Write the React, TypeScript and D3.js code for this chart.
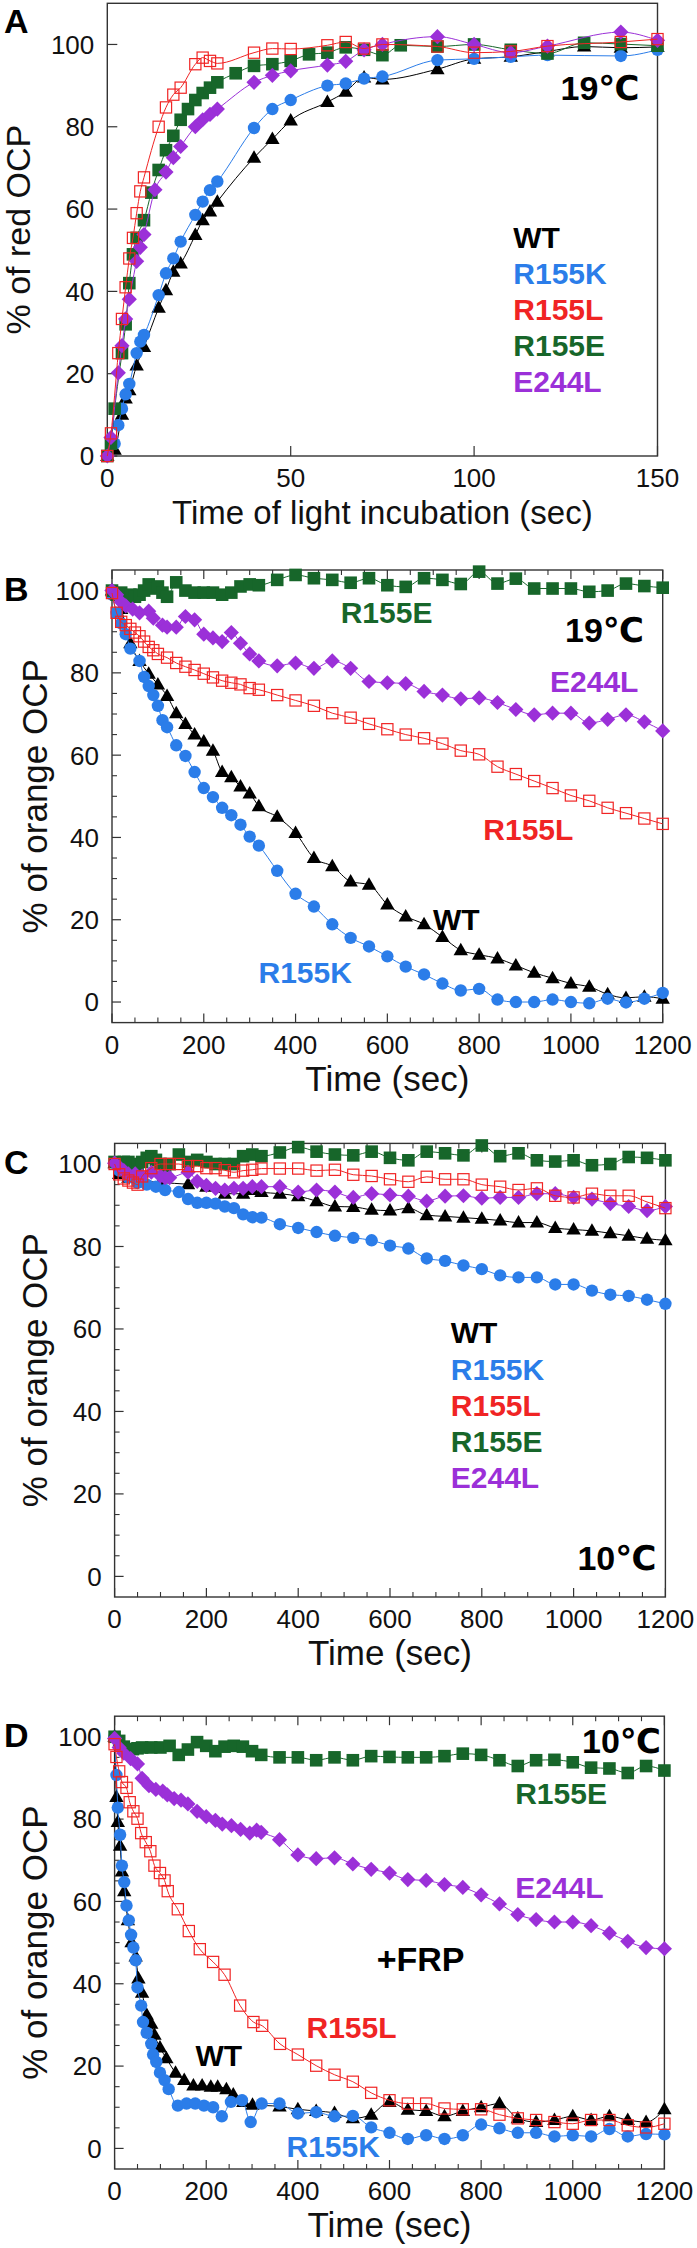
import React from "react";
import * as d3 from "d3";

// ---------- DATA ----------
type Pt = [number, number];

// Panel A: % of red OCP vs time of light incubation (sec), 19°C
const A_WT: Pt[] = [[0,0],[2,1.5],[4,10],[5,14],[6,16],[8,22],[10,26.5],[14,36],[16,40.3],[18,44.8],[20,46.8],[24,53.7],[26,57.3],[28,59.4],[30,61.8],[40,72.5],[45,77],[50,81.5],[60,86],[65,88.5],[70,92],[75,91.5],[90,94],[100,96.5],[110,97],[120,98.3],[130,99.5],[140,99.2],[150,99.4]];
const A_R155K: Pt[] = [[0,0],[2,3],[3,7.5],[4,11.5],[5,15],[6,17.5],[8,25],[9,27.8],[10,29.4],[14,39.1],[16,44.4],[18,48],[20,52.1],[24,58.6],[26,61.8],[28,64.6],[30,66.7],[40,79.7],[45,84.3],[50,86.5],[60,90],[65,90.5],[70,91.7],[75,92.2],[90,96.2],[100,96.5],[110,97],[120,97.4],[140,97.2],[150,98.7]];
const A_R155L: Pt[] = [[0,0],[1,5.5],[3,25],[4,33.3],[5,41],[6,48],[7,53],[8,59],[9,64.3],[10,67.7],[14,80],[16,84.7],[18,87.8],[20,89.5],[24,95.2],[26,96.8],[28,96],[30,95.4],[40,98],[45,99],[50,98.9],[60,99.8],[65,100.6],[70,99],[75,100],[90,99.5],[100,98],[110,98.3],[120,99.6],[140,100.6],[150,101.3]];
const A_R155E: Pt[] = [[0,0],[1,3],[2,11.5],[4,25],[5,32],[6,42],[7,49],[8,53],[10,57.3],[12,64],[14,69.5],[16,74.3],[18,77.8],[20,81.7],[22,84.3],[24,86.5],[26,88.2],[28,89.5],[30,90.8],[35,93],[40,94.8],[45,95.2],[50,96],[55,97.6],[60,98],[65,99.3],[70,98.7],[75,97.4],[80,99.8],[90,99.5],[100,100],[110,98.7],[120,97.8],[130,100.4],[140,100.1],[150,99.7]];
const A_E244L: Pt[] = [[0,0],[1,4.5],[3,20.2],[4,26.8],[5,33.3],[6,38.1],[8,47.3],[9,50.7],[10,53.8],[13,64.7],[16,69],[18,72.5],[20,75.2],[24,80],[26,81.7],[28,83],[30,84.3],[40,90.8],[45,92.5],[50,93.6],[60,95],[65,95.9],[70,98.7],[75,100],[90,101.9],[100,100],[110,98],[120,99.6],[140,103],[150,101]];

// Panel B: % of orange OCP vs time (sec), 19°C
const B_WT: Pt[] = [[0,100],[20,95.5],[40,87.2],[60,82.9],[80,79.8],[100,77.2],[120,74.4],[140,70.2],[160,67.6],[180,65],[200,63.3],[220,61.1],[240,55.9],[260,54.6],[280,52.4],[300,50.7],[320,47.6],[360,45],[400,41.1],[440,35],[480,33],[520,29.3],[560,28.5],[600,23.7],[640,20.8],[680,18.9],[720,15.8],[760,12.6],[800,11.5],[840,10.6],[880,8.9],[920,7.1],[960,5.8],[1000,4.5],[1040,3.7],[1080,1.9],[1120,1],[1160,1.3],[1200,0.8]];
const B_R155K: Pt[] = [[0,99],[10,94.6],[20,92],[30,89.4],[40,85.9],[60,82.9],[70,79],[80,76.8],[90,74.6],[100,72],[110,68.5],[120,66.8],[140,62.4],[160,59.8],[180,55.9],[200,52],[220,49.8],[240,47.2],[260,45.4],[280,43.1],[300,40.2],[320,38],[360,31.9],[400,26.3],[440,23.2],[480,18.9],[520,15.6],[560,13.5],[600,11.1],[640,8.6],[680,6.7],[720,4.5],[760,2.8],[800,3.2],[840,0.6],[880,0],[920,0],[960,0.6],[1000,0],[1040,-0.3],[1080,0.8],[1120,-0.1],[1160,0.8],[1200,2.2]];
const B_R155L: Pt[] = [[0,99.4],[10,94.6],[20,92.4],[30,91.6],[40,90.7],[50,89.8],[60,88.9],[70,87.6],[80,86.3],[90,85.5],[100,84.6],[120,83.7],[140,82.4],[160,81.5],[180,80.7],[200,79.8],[220,78.9],[240,78.1],[260,77.6],[280,77.2],[300,76.3],[320,75.9],[360,74.6],[400,73.3],[440,72],[480,70.2],[520,69.1],[560,67.6],[600,66.3],[640,65],[680,64.1],[720,62.8],[760,61.1],[800,60.2],[840,57.2],[880,55.4],[920,53.7],[960,52],[1000,50.2],[1040,48.9],[1080,47.2],[1120,45.9],[1160,44.6],[1200,43.3]];
const B_R155E: Pt[] = [[0,100],[10,99],[20,99.5],[30,98.5],[40,99],[50,98.5],[60,99],[70,100],[80,101.5],[90,100.5],[100,101],[110,99.5],[120,98.5],[140,102],[160,100],[180,99.5],[200,99.5],[220,99.5],[240,99],[260,99.5],[280,101],[300,101.5],[320,101.3],[360,102.6],[400,103.8],[440,103],[480,102.6],[520,101.9],[560,103],[600,101.3],[640,100.9],[680,103],[720,102.6],[760,101.6],[800,104.6],[840,101.7],[880,102.9],[920,100.5],[960,100.5],[1000,100.5],[1040,99.7],[1080,100],[1120,101.7],[1160,101.1],[1200,100.7]];
const B_E244L: Pt[] = [[0,100],[10,99],[20,97.2],[30,96.3],[45,95.5],[60,94.6],[80,95],[90,93.3],[110,91.6],[120,91.1],[140,91.1],[160,93.7],[180,92.9],[200,89.4],[220,88.5],[240,87.6],[260,89.8],[280,87.2],[300,84.6],[320,82.9],[360,81.7],[400,82.4],[440,81.1],[480,82.9],[520,81.1],[560,77.9],[600,77.6],[640,77.4],[680,75.5],[720,74.6],[760,73.7],[800,73.9],[840,72.8],[880,71.1],[920,69.8],[960,70.2],[1000,70.2],[1040,67.8],[1080,68.7],[1120,69.8],[1160,68.1],[1200,65.9]];

// Panel C: % of orange OCP vs time (sec), 10°C
const C_WT: Pt[] = [[0,100.2],[10,97.6],[30,96.7],[60,96],[100,95.5],[160,95.1],[200,94.5],[240,92.8],[280,92.8],[300,93.7],[320,93.2],[360,92.8],[400,92.2],[440,91],[480,89.7],[520,89.6],[560,88.9],[600,88.7],[640,89.3],[680,87.6],[720,87.3],[760,87],[800,86.7],[840,86.3],[880,85.8],[920,85.8],[960,84.5],[1000,84.1],[1040,83.8],[1080,83.2],[1120,82.6],[1160,81.9],[1200,81.5]];
const C_R155K: Pt[] = [[0,100.2],[10,98.4],[30,96.7],[50,95.4],[70,95],[90,94.5],[110,93.7],[140,93.2],[160,91.5],[180,90.6],[200,90.6],[220,90.4],[240,89.7],[260,89.3],[280,87.8],[300,87.1],[320,87],[360,85.4],[400,84.5],[440,83.5],[480,82.6],[520,82.1],[560,81.5],[600,80.2],[640,79.5],[680,77.1],[720,76.5],[760,75.4],[800,74.5],[840,73],[880,72.5],[920,72.5],[960,70.8],[1000,70.8],[1040,69.3],[1080,68.3],[1120,68],[1160,67.1],[1200,66.1]];
const C_R155L: Pt[] = [[0,100],[10,97.5],[20,96.5],[30,96],[40,95.5],[50,95],[60,97],[80,99],[100,100],[120,100],[140,100],[160,99.5],[180,99.5],[200,99],[220,99],[240,98.5],[260,98],[280,98.4],[300,98.6],[320,98.9],[360,98.9],[400,98.9],[440,98.4],[480,98.6],[520,97.4],[560,97.1],[600,96.3],[640,95.7],[680,96.9],[720,96.3],[760,96.3],[800,95],[840,94.5],[880,93.7],[920,94.1],[960,92.3],[1000,91.9],[1040,92.8],[1080,92.3],[1120,92.3],[1160,90.8],[1200,89.3]];
const C_R155E: Pt[] = [[0,100.5],[10,100],[20,100.5],[30,100.5],[40,100],[50,99.8],[60,100.5],[70,101.5],[80,101.9],[90,101],[100,100],[110,99.5],[120,100],[140,102.3],[160,100.5],[180,101],[200,100.5],[220,100],[240,100],[260,100],[280,101.9],[300,102.3],[320,101.9],[360,102.8],[400,104.1],[440,103],[480,102.3],[520,102.1],[560,103],[600,101.5],[640,100.9],[680,103],[720,102.6],[760,102.1],[800,104.5],[840,101.9],[880,102.6],[920,100.9],[960,100.6],[1000,100.9],[1040,99.7],[1080,100],[1120,101.7],[1160,101.5],[1200,100.9]];
const C_E244L: Pt[] = [[0,100.2],[10,99.3],[20,98.4],[30,97.6],[45,97.6],[60,97.1],[80,98],[100,97.1],[110,96.7],[120,96.7],[160,98],[180,95.8],[200,94.8],[220,94.1],[240,93.7],[260,94.1],[280,94.1],[300,94.5],[320,94.5],[360,94.5],[400,93.2],[440,93.7],[480,93.2],[520,91.9],[560,92.8],[600,92.5],[640,92.2],[680,91],[720,92.2],[760,92.3],[800,91.7],[840,91.9],[880,91.9],[920,92.8],[960,92.8],[1000,91.9],[1040,91.5],[1080,90.4],[1120,89.7],[1160,88.7],[1200,89.7]];

// Panel D: % of orange OCP vs time (sec), 10°C, +FRP
const D_WT: Pt[] = [[0,100],[4,85.4],[7,79.3],[12,73.5],[16,67.3],[21,62.5],[29,55.4],[37,50.1],[46,46.6],[52,41.3],[60,37.8],[70,32.5],[80,30.3],[87,27.6],[99,24.5],[113,21.9],[133,18.4],[152,16.6],[172,15.3],[191,15.3],[210,15],[225,15],[244,14.4],[259,13.1],[281,11.3],[301,10.6],[360,10.2],[400,9.5],[440,9.1],[480,8.6],[520,7.3],[560,8.2],[600,11.3],[640,9.4],[680,9.1],[720,7.8],[760,9.1],[800,10],[840,10.9],[880,7.3],[920,6.4],[960,6.9],[1000,7.8],[1040,6.9],[1080,7.8],[1120,6.9],[1160,6.4],[1200,9.5]];
const D_R155K: Pt[] = [[0,100],[4,90.7],[7,82.8],[12,76.2],[16,68.7],[21,64.7],[26,59],[31,55.4],[36,51.9],[41,48.8],[46,45.7],[50,39.1],[58,34.7],[62,30.7],[70,28.1],[80,25.4],[84,22.8],[91,21],[99,18.4],[109,16.6],[118,14.4],[138,10.4],[157,10.9],[176,10.9],[195,10.4],[215,10],[234,7.8],[254,11.3],[278,11.7],[297,6.4],[321,10.9],[360,10.9],[400,8.5],[440,8.8],[480,7.8],[520,7.9],[560,5.1],[600,3.8],[640,2.3],[680,3.2],[720,2.3],[760,3.2],[800,5.8],[840,4.9],[880,3.8],[920,3.8],[960,2.9],[1000,3.2],[1040,2.9],[1080,4.7],[1120,2.9],[1160,3.5],[1200,3.4]];
const D_R155L: Pt[] = [[0,98.2],[4,95.1],[10,91.6],[16,89],[26,87.6],[33,84.1],[41,81.9],[50,80.1],[58,76.6],[68,74.4],[78,72.2],[87,68.7],[99,66.9],[109,65.1],[116,62.5],[138,58.1],[162,52.8],[186,48.4],[215,45.3],[240,42.2],[274,34.7],[303,30.7],[322,29.8],[361,25.4],[400,22.8],[440,20.1],[480,17.9],[520,16.2],[560,13.5],[600,11.7],[640,10.9],[680,10.9],[720,9.7],[760,9.5],[800,9.5],[840,8.2],[880,7.3],[920,6.9],[960,6.4],[1000,6],[1040,6.9],[1080,6.9],[1120,5.6],[1160,5.1],[1200,6]];
const D_R155E: Pt[] = [[0,100],[10,99],[20,97.6],[30,97],[40,97],[50,97.2],[60,97.4],[80,97.4],[100,97.4],[120,97.8],[140,95.6],[160,96.9],[180,98.7],[200,97.8],[220,96.5],[240,97.6],[260,97.8],[280,97.6],[300,96.5],[320,95.6],[360,95],[400,95],[440,94.3],[480,95],[520,94.3],[560,95.3],[600,95.1],[640,95],[680,95],[720,95.3],[760,95.9],[800,95.6],[840,94.3],[880,92.9],[920,94.3],[960,94.4],[1000,93.8],[1040,92.5],[1080,92.3],[1120,91.2],[1160,92.9],[1200,91.8]];
const D_E244L: Pt[] = [[0,99.6],[10,97.4],[20,96],[35,94.7],[50,93.4],[60,89.9],[75,88.1],[90,87.2],[105,86.8],[115,85.9],[130,85],[145,84.6],[160,83.7],[180,81.9],[200,80.6],[220,79.7],[235,78.8],[255,78.4],[275,77.5],[295,76.6],[310,77.3],[320,76.8],[360,75],[400,71.3],[440,70.4],[480,70.6],[520,69.1],[560,67.8],[600,66.9],[640,65.3],[680,65.1],[720,64.1],[760,63.4],[800,61.6],[840,59.4],[880,56.8],[920,55.6],[960,55],[1000,55],[1040,54.1],[1080,52.3],[1120,50.3],[1160,48.8],[1200,48.5]];

const STRAINS = ["WT", "R155K", "R155L", "R155E", "E244L"];
const COLORS: Record<string, string> = {
  WT: "#000000",
  R155K: "#2b7de9",
  R155L: "#f02424",
  R155E: "#17662a",
  E244L: "#9b30d8",
};
const DRAW_ORDER = ["WT", "R155K", "R155E", "E244L", "R155L"];

const A_X_TICKS = [0, 50, 100, 150];
const A_Y_TICKS = [0, 20, 40, 60, 80, 100];
const T_X_TICKS = [0, 200, 400, 600, 800, 1000, 1200];
const T_Y_TICKS = [0, 20, 40, 60, 80, 100];

const FONT = '"Liberation Sans", Arial, Helvetica, "DejaVu Sans", sans-serif';

type Label = { text: string; color: string; x: number; y: number; size: number };

type Panel = {
  letter: string;
  letterY: number;
  x0: number; x1: number; y0: number; y1: number;
  xDomain: [number, number]; yDomain: [number, number];
  xTicks: number[]; yTicks: number[];
  minor: boolean;
  xTitle: string; yTitle: string; yTitleX: number; xTitleSize: number; yTitleSize: number;
  data: Record<string, Pt[]>;
  labels: Label[];
};

const legend = (x: number, ys: number[]): Label[] =>
  STRAINS.map((s, i) => ({ text: s, color: COLORS[s], x, y: ys[i], size: 30 }));

const PANELS: Panel[] = [
  {
    letter: "A", letterY: 33,
    x0: 107.3, x1: 657.5, y0: 3.3, y1: 456,
    xDomain: [0, 150], yDomain: [0, 110],
    xTicks: A_X_TICKS, yTicks: A_Y_TICKS, minor: false,
    xTitle: "Time of light incubation (sec)", yTitle: "% of red OCP", yTitleX: 30,
    xTitleSize: 33, yTitleSize: 34,
    data: { WT: A_WT, R155K: A_R155K, R155L: A_R155L, R155E: A_R155E, E244L: A_E244L },
    labels: [
      { text: "19℃", color: "#000", x: 560.5, y: 100, size: 34 },
      ...legend(513.3, [248.3, 284, 320, 355.5, 391.7]),
    ],
  },
  {
    letter: "B", letterY: 601,
    x0: 112, x1: 662.7, y0: 570, y1: 1022.6,
    xDomain: [0, 1200], yDomain: [-5, 105],
    xTicks: T_X_TICKS, yTicks: T_Y_TICKS, minor: true,
    xTitle: "Time (sec)", yTitle: "% of orange OCP", yTitleX: 47,
    xTitleSize: 35, yTitleSize: 35,
    data: { WT: B_WT, R155K: B_R155K, R155L: B_R155L, R155E: B_R155E, E244L: B_E244L },
    labels: [
      { text: "19℃", color: "#000", x: 565, y: 641.7, size: 34 },
      { text: "R155E", color: COLORS.R155E, x: 340.7, y: 622.7, size: 30 },
      { text: "E244L", color: COLORS.E244L, x: 550, y: 691.7, size: 30 },
      { text: "R155L", color: COLORS.R155L, x: 483.3, y: 839.9, size: 30 },
      { text: "WT", color: COLORS.WT, x: 433, y: 929.6, size: 30 },
      { text: "R155K", color: COLORS.R155K, x: 258.5, y: 983.4, size: 30 },
    ],
  },
  {
    letter: "C", letterY: 1174,
    x0: 114.6, x1: 665.4, y0: 1143.4, y1: 1597,
    xDomain: [0, 1200], yDomain: [-5, 105],
    xTicks: T_X_TICKS, yTicks: T_Y_TICKS, minor: true,
    xTitle: "Time (sec)", yTitle: "% of orange OCP", yTitleX: 47,
    xTitleSize: 35, yTitleSize: 35,
    data: { WT: C_WT, R155K: C_R155K, R155L: C_R155L, R155E: C_R155E, E244L: C_E244L },
    labels: [
      { text: "10℃", color: "#000", x: 577.4, y: 1570.3, size: 34 },
      ...legend(450.8, [1343, 1379.5, 1415.5, 1451.5, 1488]),
    ],
  },
  {
    letter: "D", letterY: 1747,
    x0: 114.6, x1: 664.4, y0: 1716.2, y1: 2169,
    xDomain: [0, 1200], yDomain: [-5, 105],
    xTicks: T_X_TICKS, yTicks: T_Y_TICKS, minor: true,
    xTitle: "Time (sec)", yTitle: "% of orange OCP", yTitleX: 47,
    xTitleSize: 35, yTitleSize: 35,
    data: { WT: D_WT, R155K: D_R155K, R155L: D_R155L, R155E: D_R155E, E244L: D_E244L },
    labels: [
      { text: "10℃", color: "#000", x: 582, y: 1752.8, size: 34 },
      { text: "R155E", color: COLORS.R155E, x: 515.2, y: 1803.7, size: 30 },
      { text: "E244L", color: COLORS.E244L, x: 515.2, y: 1898.3, size: 30 },
      { text: "+FRP", color: "#000", x: 376.7, y: 1971, size: 34 },
      { text: "R155L", color: COLORS.R155L, x: 306.5, y: 2038.4, size: 30 },
      { text: "WT", color: COLORS.WT, x: 195.4, y: 2065.7, size: 30 },
      { text: "R155K", color: COLORS.R155K, x: 286.5, y: 2156.7, size: 30 },
    ],
  },
];

function Marker({ s, x, y }: { s: string; x: number; y: number }) {
  const c = COLORS[s];
  if (s === "WT") {
    const w = 7.2, h = 12.5;
    return <path d={`M${x},${y - h * 0.6}L${x + w},${y + h * 0.4}L${x - w},${y + h * 0.4}Z`} fill={c} />;
  }
  if (s === "R155K") return <circle cx={x} cy={y} r={6.2} fill={c} />;
  if (s === "R155L")
    return <rect x={x - 5.6} y={y - 5.6} width={11.2} height={11.2} fill="none" stroke={c} strokeWidth={1.2} />;
  if (s === "R155E") return <rect x={x - 6.3} y={y - 6.3} width={12.6} height={12.6} fill={c} />;
  const d = 7.6;
  return <path d={`M${x},${y - d}L${x + d},${y}L${x},${y + d}L${x - d},${y}Z`} fill={c} />;
}

function PanelView({ p }: { p: Panel }) {
  const x = d3.scaleLinear().domain(p.xDomain).range([p.x0, p.x1]);
  const y = d3.scaleLinear().domain(p.yDomain).range([p.y1, p.y0]);
  const line = d3
    .line<Pt>()
    .x((d) => x(d[0]))
    .y((d) => y(d[1]))
    .curve(d3.curveMonotoneX);
  const axisColor = "#333";
  const majorLen = p.minor ? 9 : 10;
  const xMinor = p.minor ? d3.range(p.xDomain[0], p.xDomain[1] + 1, 50).filter((v) => !p.xTicks.includes(v)) : [];
  const yMinor = p.minor ? d3.range(0, 105, 5).filter((v) => !p.yTicks.includes(v)) : [];
  const cx = (p.x0 + p.x1) / 2;
  const cy = (p.y0 + p.y1) / 2;
  return (
    <g style={{ fontFamily: FONT }}>
      <rect x={p.x0} y={p.y0} width={p.x1 - p.x0} height={p.y1 - p.y0} fill="none" stroke={axisColor} strokeWidth={1.4} />
      {p.xTicks.map((t) => (
        <g key={"xt" + t}>
          <line x1={x(t)} x2={x(t)} y1={p.y1} y2={p.y1 - majorLen} stroke={axisColor} strokeWidth={1.2} />
          {p.minor && <line x1={x(t)} x2={x(t)} y1={p.y0} y2={p.y0 + majorLen} stroke={axisColor} strokeWidth={1.2} />}
          <text x={x(t)} y={p.y1 + 31} textAnchor="middle" fontSize={26} fill="#111">{t}</text>
        </g>
      ))}
      {xMinor.map((t) => (
        <g key={"xm" + t}>
          <line x1={x(t)} x2={x(t)} y1={p.y1} y2={p.y1 - 5} stroke={axisColor} strokeWidth={1.1} />
          <line x1={x(t)} x2={x(t)} y1={p.y0} y2={p.y0 + 5} stroke={axisColor} strokeWidth={1.1} />
        </g>
      ))}
      {p.yTicks.map((t) => (
        <g key={"yt" + t}>
          <line x1={p.x0} x2={p.x0 + majorLen} y1={y(t)} y2={y(t)} stroke={axisColor} strokeWidth={1.2} />
          <text x={p.x0 - 13} y={y(t)} dy="0.36em" textAnchor="end" fontSize={26} fill="#111">{t}</text>
        </g>
      ))}
      {yMinor.map((t) => (
        <line key={"ym" + t} x1={p.x0} x2={p.x0 + 5} y1={y(t)} y2={y(t)} stroke={axisColor} strokeWidth={1.1} />
      ))}
      <text x={cx} y={p.y1 + 68} textAnchor="middle" fontSize={p.xTitleSize} fill="#111">{p.xTitle}</text>
      <text transform={`translate(${p.yTitleX},${cy}) rotate(-90)`} textAnchor="middle" fontSize={p.yTitleSize} fill="#111">{p.yTitle}</text>
      <text x={4} y={p.letterY} fontSize={34} fontWeight="bold" fill="#000">{p.letter}</text>
      {DRAW_ORDER.map((s) => (
        <g key={s}>
          <path d={line(p.data[s]) || ""} fill="none" stroke={COLORS[s]} strokeWidth={1} />
          {p.data[s].map((d, i) => (
            <Marker key={i} s={s} x={x(d[0])} y={y(d[1])} />
          ))}
        </g>
      ))}
      {p.labels.map((l, i) => (
        <text key={i} x={l.x} y={l.y} fontSize={l.size} fontWeight="bold" fill={l.color}>{l.text}</text>
      ))}
    </g>
  );
}

export default function App() {
  return (
    <svg
      width={697}
      height={2248}
      viewBox="0 0 697 2248"
      style={{ position: "absolute", left: 0, top: 0, display: "block", background: "#fff" }}
    >
      <rect x={0} y={0} width={697} height={2248} fill="#fff" />
      {PANELS.map((p) => (
        <PanelView key={p.letter} p={p} />
      ))}
    </svg>
  );
}
